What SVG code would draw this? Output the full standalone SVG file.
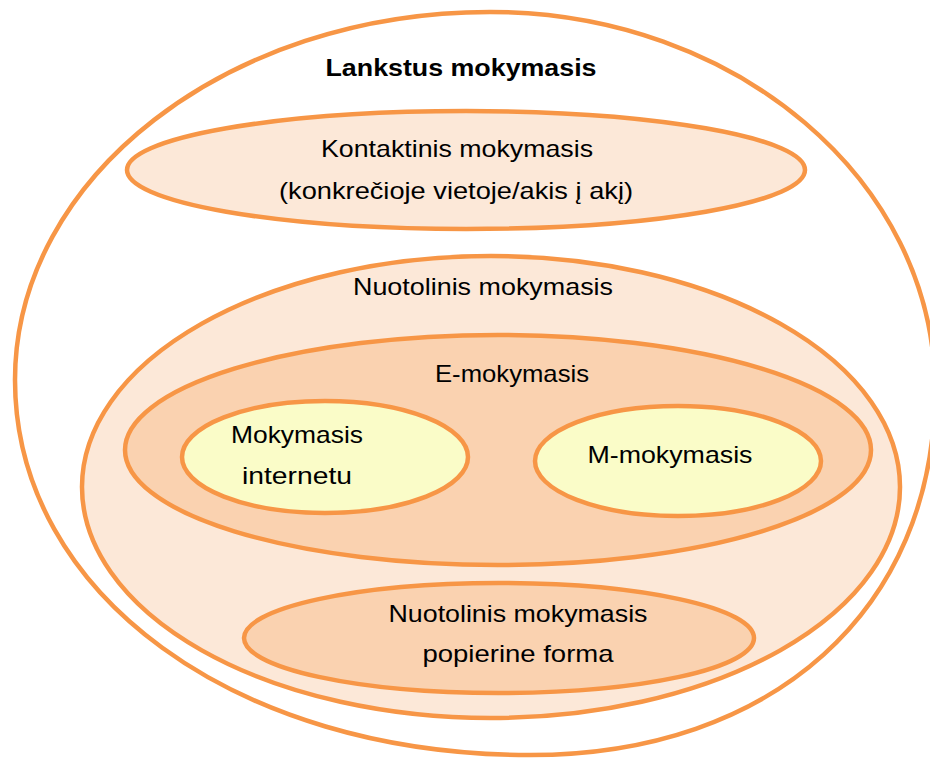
<svg xmlns="http://www.w3.org/2000/svg" width="930" height="759" viewBox="0 0 930 759">
<style>
.e{stroke:#F79646;stroke-width:4.5}
.l1{fill:#FCE8D8}
.l2{fill:#FAD2B0}
.l3{fill:#FAFCC8}
text{font-family:"Liberation Sans",Arial,sans-serif;font-size:24px;fill:#000;text-anchor:middle}
.b{font-weight:bold;font-size:23px}
</style>
<rect width="930" height="759" fill="#fff"/>
<g id="lankstus">
<path class="e" fill="#fff" d="M490,12 C736,12 935,181 935,390 C935,609 773,755 530,755 C236,755 15,594 15,380 C15,177 228,12 490,12 Z"/>
<text class="b" x="461" y="76" textLength="271" lengthAdjust="spacingAndGlyphs">Lankstus mokymasis</text>
</g>
<g id="kontaktinis">
<ellipse class="e l1" cx="466" cy="170" rx="339" ry="59"/>
<text x="457" y="157" textLength="272" lengthAdjust="spacingAndGlyphs">Kontaktinis mokymasis</text>
<text x="456" y="199" textLength="354" lengthAdjust="spacingAndGlyphs">(konkrečioje vietoje/akis į akį)</text>
</g>
<g id="nuotolinis">
<ellipse class="e l1" cx="491" cy="487" rx="409" ry="231"/>
<text x="483" y="295" textLength="260" lengthAdjust="spacingAndGlyphs">Nuotolinis mokymasis</text>
</g>
<g id="e-mokymasis">
<ellipse class="e l2" cx="498" cy="450" rx="373" ry="115"/>
<text x="512" y="382" textLength="154" lengthAdjust="spacingAndGlyphs">E-mokymasis</text>
</g>
<g id="internetu">
<ellipse class="e l3" cx="325" cy="457" rx="143" ry="56"/>
<text x="297" y="443" textLength="132" lengthAdjust="spacingAndGlyphs">Mokymasis</text>
<text x="297" y="484" textLength="110" lengthAdjust="spacingAndGlyphs">internetu</text>
</g>
<g id="m-mokymasis">
<ellipse class="e l3" cx="678" cy="461" rx="143" ry="55"/>
<text x="670" y="463" textLength="165" lengthAdjust="spacingAndGlyphs">M-mokymasis</text>
</g>
<g id="popierine">
<ellipse class="e l2" cx="499" cy="638" rx="255" ry="55"/>
<text x="518" y="622" textLength="259" lengthAdjust="spacingAndGlyphs">Nuotolinis mokymasis</text>
<text x="518" y="662" textLength="191" lengthAdjust="spacingAndGlyphs">popierine forma</text>
</g>
<g id="connectors"/>
</svg>
